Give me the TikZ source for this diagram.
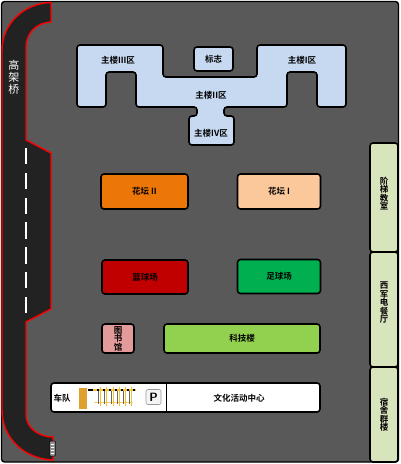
\documentclass[tikz,border=0pt]{standalone}
\usepackage{fontspec}
\newfontfamily\cjk[BoldFont={Noto Sans CJK SC Bold}]{Noto Sans CJK SC}
\newcommand{\labfont}{\cjk\bfseries\fontsize{8.5}{8.5}\selectfont}
\begin{document}
\begin{tikzpicture}[x=1pt,y=-1pt,
  lab/.style={font=\labfont,text=black,inner sep=0pt,align=center},
  block/.style={draw=black,line width=1.6pt,rounded corners=3pt,inner sep=0pt,align=center,font=\labfont},
  blue/.style={block,fill=mainblue},
  side/.style={block,fill=sidegreen,minimum width=28pt},
  dashline/.style={draw=white,line width=1.4pt}]
\definecolor{mainblue}{HTML}{C6D9F1}
\definecolor{sidegreen}{HTML}{D8E4BC}
\definecolor{ground}{HTML}{595959}
\definecolor{asphalt}{HTML}{222222}
\definecolor{postcol}{HTML}{E0A030}
\definecolor{barcol}{HTML}{F2C230}
\useasboundingbox (0,0) rectangle (400,464);
\fill[white] (0,0) rectangle (400,464);
\draw[fill=ground,draw=black,line width=1.4pt,rounded corners=3pt] (1.5,1.5) rectangle (398.5,462);
% road
\draw[fill=asphalt,draw=red,line width=1.4pt,line join=miter]
  (51,2.5) -- (51,22) .. controls (36,23) and (26,33) .. (26,48) -- (26,140) -- (51,153) -- (51,309) -- (26,322)
  -- (26,415) .. controls (26,427) and (38,437) .. (53,437) -- (53,460)
  .. controls (24,459) and (2,438) .. (2,410) -- (2,50) .. controls (2,24) and (24,3) .. (51,2.5) -- cycle;
\foreach \a/\b in {148/164,173/189,198/214,222/239,247/264,272/288,297/313}
  \draw[dashline] (26,\a) -- (26,\b);
\node[font=\cjk\fontsize{11}{12}\selectfont,text=white,inner sep=0pt,align=center] (bridge) at (14,77) {高\\架\\桥};
% main building
\draw[blue] (77,45) -- (163,45) -- (163,77) -- (257,77) -- (257,45) -- (346,45) -- (346,107) -- (317,107) -- (317,72) -- (287,72)
  -- (287,107) -- (224,107) -- (224,116) -- (234,116) -- (234,145) -- (189,145) -- (189,116) -- (197,116) -- (197,107)
  -- (136,107) -- (136,72) -- (106,72) -- (106,107) -- (77,107) -- cycle;
\node[lab] (m3) at (118,60) {主楼III区};
\node[lab] (m1) at (302,60) {主楼I区};
\node[lab] (m2) at (211,95) {主楼II区};
\node[lab] (m4) at (211,133) {主楼IV区};
\node[blue,minimum width=39pt,minimum height=24pt] (sign) at (213.5,59) {标志};
% blocks
\node[block,fill={rgb,255:red,237;green,118;blue,9},minimum width=87pt,minimum height=35pt] (f2) at (144.5,191.5) {花坛 II};
\node[block,fill={rgb,255:red,250;green,200;blue,155},minimum width=83pt,minimum height=35pt] (f1) at (279,191.5) {花坛 I};
\node[block,fill={rgb,255:red,192;green,0;blue,0},minimum width=86pt,minimum height=34pt] (bb) at (145,277) {篮球场};
\node[block,fill={rgb,255:red,0;green,176;blue,80},minimum width=83pt,minimum height=34pt] (fb) at (279,276.5) {足球场};
\node[block,fill={rgb,255:red,226;green,154;blue,154},minimum width=32pt,minimum height=29pt] (lib) at (118,338.5) {图\\书\\馆};
\node[block,fill={rgb,255:red,146;green,208;blue,80},minimum width=156pt,minimum height=29pt] (tech) at (242,338.5) {科技楼};
% culture centre
\node[block,fill=white,minimum width=269pt,minimum height=29pt] (cc) at (185.5,397.5) {};
\draw[black,line width=1pt] (166,383) -- (166,412);
\node[lab] (team) at (62,398) {车队};
\node[lab] (cult) at (239,398) {文化活动中心};
\node[draw=black!40,fill=black!4,rounded corners=2pt,line width=0.6pt,minimum width=15pt,minimum height=15pt,inner sep=0pt,font=\sffamily\bfseries\fontsize{12}{12}\selectfont] (park) at (153.5,397) {P};
% barrier
\fill[postcol] (79,388) rectangle (87,408.5);
\draw[black,line width=1.1pt] (88,390) -- (136,390);
\draw[barcol,line width=1.5pt,dash pattern=on 4pt off 2pt] (93,390) -- (136,390);
\draw[barcol!80,line width=1.3pt] (94,402.5) -- (133,402.5);
\foreach \x in {98,104,111,117,123,129}{
  \draw[black!60,line width=0.8pt] (\x,391) -- (\x,404);
  \draw[barcol,line width=0.9pt] (\x+2,386.5) -- (\x+2,406);
}
% gauge at road end
\draw[black,fill=black!45,line width=0.5pt,rounded corners=1pt] (49.5,441) rectangle (55.5,456);
\foreach \y in {444,447,450,453} \draw[white,line width=0.6pt] (51,\y) -- (54,\y);
% right side
\node[side,minimum height=109pt] (s1) at (384,197.5) {};
\node[side,minimum height=115pt] (s2) at (384,309.5) {};
\node[side,minimum height=95pt] (s3) at (384,414.5) {};
\node[lab] (t1) at (384,193.5) {阶\\梯\\教\\室};
\node[lab] (t2) at (384,303) {西\\军\\电\\餐\\厅};
\node[lab] (t3) at (384,414.5) {宿\\舍\\群\\楼};
\end{tikzpicture}
\end{document}
